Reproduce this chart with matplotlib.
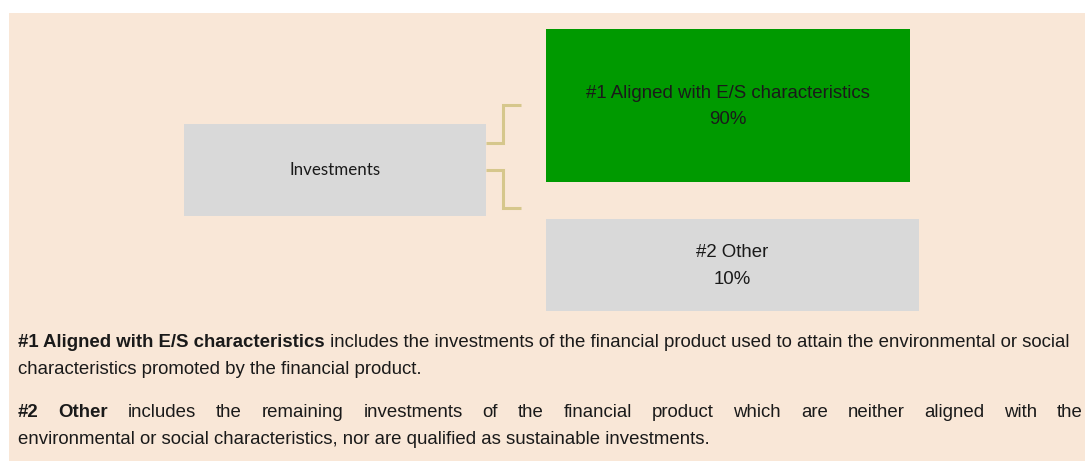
import matplotlib
matplotlib.use("Agg")
import matplotlib.pyplot as plt
from matplotlib.patches import Rectangle
from matplotlib import font_manager as fm

# ---- data ----
root_label = "Investments"
categories = ["#1 Aligned with E/S characteristics", "#2 Other"]
shares = [90, 10]
box_colors = ["#009a00", "#d9d9d9"]
bold_terms = ["#1 Aligned with E/S characteristics", "#2 Other"]
desc_lines = [
    [" includes the investments of the financial product used to attain the environmental or social",
     "characteristics promoted by the financial product."],
    [" includes the remaining investments of the financial product which are neither aligned with the",
     "environmental or social characteristics, nor are qualified as sustainable investments."],
]


def find_font(name, bold=False):
    best = None
    for f in fm.fontManager.ttflist:
        if f.name == name and "Narrow" not in f.fname and "Italic" not in f.fname:
            isb = f.weight in ("bold", 700) or "Bold" in f.fname
            if isb == bold:
                best = f.fname
                break
    if best is None:
        return fm.FontProperties(family=name, weight="bold" if bold else "normal", stretch="normal")
    return fm.FontProperties(fname=best)


REG = find_font("Liberation Sans")
BLD = find_font("Liberation Sans", bold=True)

W, H = 1085, 461
fig = plt.figure(figsize=(W / 100, H / 100), dpi=100)
fig.patch.set_facecolor("white")
ax = fig.add_axes([0, 0, 1, 1])
ax.set_xlim(0, W)
ax.set_ylim(H, 0)
ax.axis("off")

BG = "#f9e7d7"
TXT = "#1a1a1a"
ax.add_patch(Rectangle((9, 13), W - 9, H - 13, facecolor=BG, edgecolor="none"))

# root box
ax.add_patch(Rectangle((184, 124), 302, 92, facecolor="#d9d9d9", edgecolor="none"))
ax.text(335, 175, root_label, ha="center", va="baseline", fontsize=12.2,
        family="Lato", color=TXT)

FS = 13.4
# child boxes
boxes = [(546, 29, 364, 153), (546, 219, 373, 92)]
baselines = [(98, 124), (257, 284)]
for (x, y, w, h), col, cat, sh, (b1, b2) in zip(boxes, box_colors, categories, shares, baselines):
    ax.add_patch(Rectangle((x, y), w, h, facecolor=col, edgecolor="none"))
    cx = x + w / 2
    ax.text(cx, b1, cat, ha="center", va="baseline", fontproperties=REG,
            fontsize=FS, color=TXT)
    ax.text(cx, b2, f"{sh}%", ha="center", va="baseline", fontproperties=REG,
            fontsize=FS, color=TXT)

# connectors
lc = "#d6c78c"
ax.plot([486, 503, 503, 521], [143, 143, 105, 105], color=lc, lw=2.2,
        solid_joinstyle="miter", solid_capstyle="butt")
ax.plot([486, 503, 503, 521], [170, 170, 208, 208], color=lc, lw=2.2,
        solid_joinstyle="miter", solid_capstyle="butt")

# descriptions
fig.canvas.draw()
r = fig.canvas.get_renderer()
inv = ax.transData.inverted()
x0, xr = 18, 1083


def width_of(t):
    bb = t.get_window_extent(renderer=r)
    p0 = inv.transform((bb.x0, 0))[0]
    p1 = inv.transform((bb.x1, 0))[0]
    return p1 - p0


para_base = [347, 417]
justify = [False, True]
for term, lines, yb, just in zip(bold_terms, desc_lines, para_base, justify):
    if not just:
        tb = ax.text(x0, yb, term, ha="left", va="baseline", fontproperties=BLD,
                     fontsize=FS, color=TXT)
        wb = width_of(tb)
        ax.text(x0 + wb, yb, lines[0], ha="left", va="baseline", fontproperties=REG,
                fontsize=FS, color=TXT)
    else:
        bwords = term.split()
        nwords = lines[0].split()
        items = [(w, BLD) for w in bwords] + [(w, REG) for w in nwords]
        arts = []
        total = 0
        for w, fp in items:
            t = ax.text(0, yb, w, ha="left", va="baseline", fontproperties=fp,
                        fontsize=FS, color=TXT)
            arts.append(t)
            total += width_of(t)
        gap = (xr - x0 - total) / (len(items) - 1)
        xc = x0
        for t in arts:
            t.set_x(xc)
            xc += width_of(t) + gap
    ax.text(x0, yb + 27, lines[1], ha="left", va="baseline", fontproperties=REG,
            fontsize=FS, color=TXT)

fig.savefig("out.png", dpi=100, facecolor="white")
